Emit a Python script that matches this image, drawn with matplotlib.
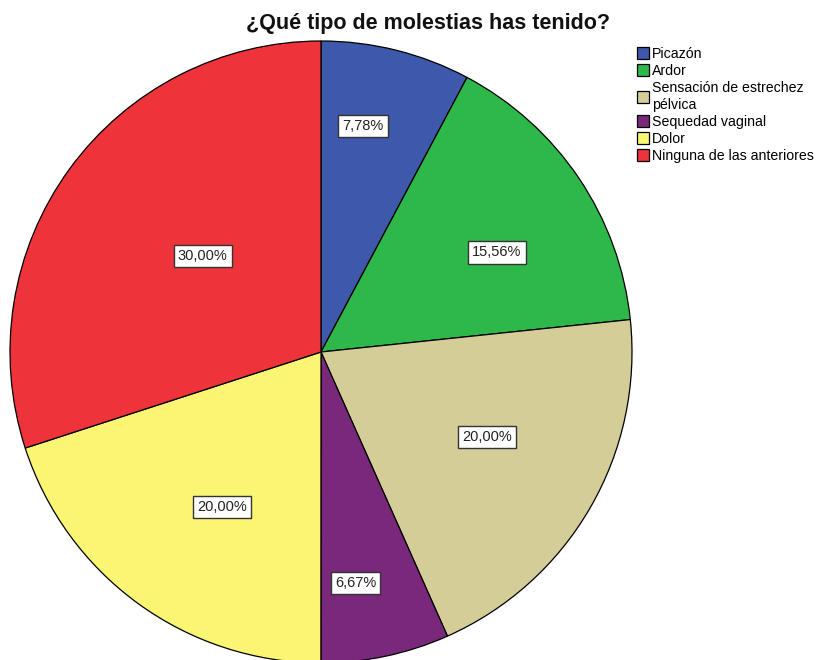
import matplotlib
matplotlib.use("Agg")
import matplotlib.pyplot as plt
import numpy as np

plt.rcParams['font.family'] = ['Liberation Sans', 'DejaVu Sans']

categories = ["Picazón", "Ardor", "Sensación de estrechez\npélvica",
              "Sequedad vaginal", "Dolor", "Ninguna de las anteriores"]
percentages = [7.78, 15.56, 20.00, 6.67, 20.00, 30.00]
colors = ["#3E58AC", "#2EB84A", "#D4CD98", "#7A287C", "#FAF573", "#EE333A"]

# per-slice label placement (radius fraction, angular nudge in degrees)
label_r = [0.74, 0.65, 0.60, 0.75, 0.59, 0.49]
label_dtheta = [3.5, -4.5, 3.0, -3.5, 3.5, -3.0]

W, H = 819, 660
fig = plt.figure(figsize=(W / 100, H / 100), dpi=100)
cx, cy, R = 321, 352, 311
ax = fig.add_axes([(cx - R) / W, (H - cy - R) / H, 2 * R / W, 2 * R / H])

wedges, _ = ax.pie(percentages, colors=colors, startangle=90, counterclock=False,
                   radius=1.0, center=(0, 0), frame=False,
                   wedgeprops=dict(edgecolor='black', linewidth=0.9))
ax.set_xlim(-1, 1)
ax.set_ylim(-1, 1)
ax.set_aspect('auto')
ax.axis('off')
for w in wedges:
    w.set_clip_on(False)

for w, p, r, dt in zip(wedges, percentages, label_r, label_dtheta):
    mid = np.deg2rad((w.theta1 + w.theta2) / 2 + dt)
    x, y = r * np.cos(mid), r * np.sin(mid)
    ax.text(x, y, f"{p:.2f}%".replace('.', ','), ha='center', va='center',
            fontsize=10.5, color='#222222',
            bbox=dict(boxstyle='square,pad=0.28', facecolor='white',
                      edgecolor='#333333', linewidth=1.0))

fig.text(428 / W, 1 - 23 / H, "¿Qué tipo de molestias has tenido?",
         ha='center', va='center', fontsize=15.5, fontweight='bold', color='#111111')

leg = fig.legend(wedges, categories, loc='upper left',
                 bbox_to_anchor=(630 / W, 1 - 40 / H), frameon=False,
                 fontsize=10.2, handlelength=0.85, handleheight=0.9,
                 handletextpad=0.2, labelspacing=0.22, borderpad=0.0)

fig.savefig("out.png", dpi=100, facecolor='white')
